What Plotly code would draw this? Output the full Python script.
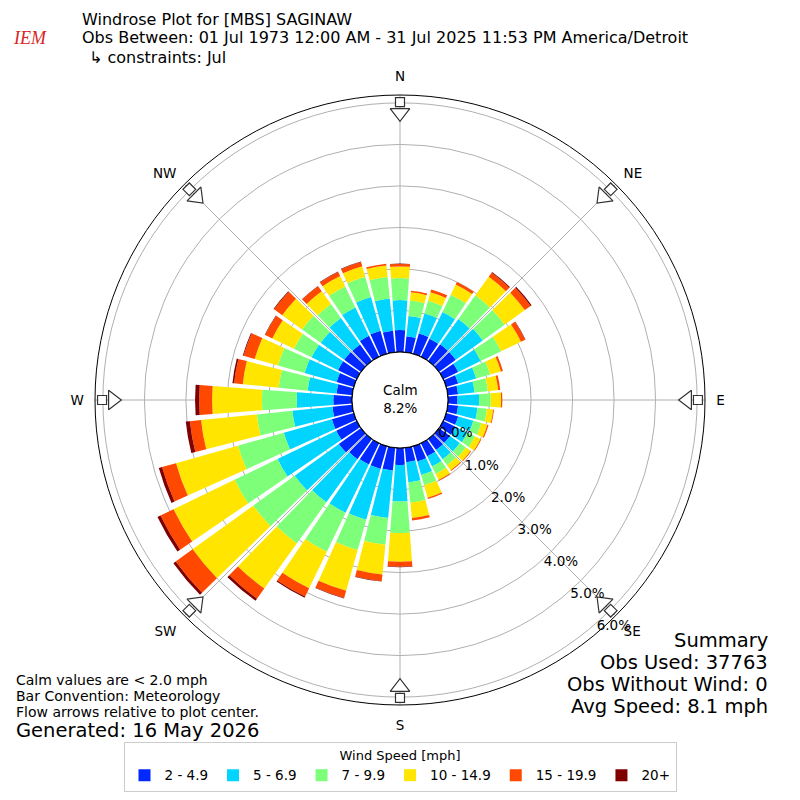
import plotly.graph_objects as go

# directions (deg, meteorological) and frequencies (%) per speed bin
directions = list(range(0, 360, 10))
bins = ["2 - 4.9", "5 - 6.9", "7 - 9.9", "10 - 14.9", "15 - 19.9", "20+"]
colors = ["#0028ff", "#00d4ff", "#7dff7a", "#ffe500", "#ff4800", "#800000"]

spd_2_5 = [0.53, 0.39, 0.51, 0.48, 0.50, 0.50, 0.40, 0.30, 0.25, 0.23, 0.25, 0.30,
           0.33, 0.33, 0.33, 0.35, 0.38, 0.35, 0.41, 0.55, 0.57, 0.57, 0.60, 0.66,
           0.55, 0.55, 0.48, 0.45, 0.38, 0.43, 0.50, 0.50, 0.49, 0.56, 0.58, 0.52]
spd_5_7 = [0.72, 0.49, 0.50, 0.72, 0.75, 0.80, 0.60, 0.45, 0.40, 0.52, 0.47, 0.38,
           0.32, 0.29, 0.27, 0.27, 0.34, 0.49, 0.88, 1.15, 1.27, 1.29, 1.28, 1.31,
           1.57, 1.20, 0.97, 0.88, 0.70, 0.80, 0.71, 0.70, 0.79, 0.76, 0.84, 0.78]
spd_7_10 = [0.53, 0.37, 0.32, 0.46, 0.70, 0.65, 0.55, 0.35, 0.32, 0.28, 0.23, 0.20,
            0.20, 0.18, 0.18, 0.20, 0.26, 0.49, 0.76, 0.65, 0.76, 1.04, 1.22, 1.23,
            1.15, 1.15, 0.86, 0.84, 0.70, 0.67, 0.47, 0.55, 0.41, 0.56, 0.51, 0.52]
spd_10_15 = [0.28, 0.20, 0.21, 0.27, 0.55, 0.60, 0.53, 0.27, 0.25, 0.25, 0.15, 0.15,
             0.15, 0.14, 0.15, 0.16, 0.31, 0.37, 0.69, 0.72, 1.02, 0.98, 1.34, 1.80,
             1.63, 1.55, 1.35, 1.20, 0.87, 0.58, 0.58, 0.59, 0.38, 0.28, 0.26, 0.28]
spd_15_20 = [0.06, 0.04, 0.07, 0.07, 0.12, 0.17, 0.11, 0.05, 0.05, 0.03, 0.02, 0.03,
             0.02, 0.02, 0.02, 0.02, 0.03, 0.06, 0.12, 0.16, 0.18, 0.22, 0.30, 0.50,
             0.35, 0.35, 0.27, 0.31, 0.21, 0.28, 0.19, 0.24, 0.15, 0.11, 0.11, 0.04]
spd_20 = [0.01, 0.00, 0.00, 0.00, 0.02, 0.03, 0.01, 0.00, 0.00, 0.00, 0.00, 0.00,
          0.00, 0.00, 0.00, 0.00, 0.00, 0.00, 0.01, 0.01, 0.01, 0.03, 0.06, 0.07,
          0.08, 0.08, 0.10, 0.10, 0.04, 0.02, 0.01, 0.02, 0.01, 0.01, 0.01, 0.00]
series = [spd_2_5, spd_5_7, spd_7_10, spd_10_15, spd_15_20, spd_20]

compass_dirs = [0, 45, 90, 135, 180, 225, 270, 315]
compass_labels = ["N", "NE", "E", "SE", "S", "SW", "W", "NW"]
rticks = [0, 1, 2, 3, 4, 5, 6]
rticklabels = ["0.0%", "1.0%", "2.0%", "3.0%", "4.0%", "5.0%", "6.0%"]
rmax = 6.19

FONT = "DejaVu Sans"
W = 800
OFF = 8  # page body margin shifts the figure by 8px


def px(x):
    return (x - OFF) / W


def py(y):
    return 1 - (y - OFF) / W


fig = go.Figure()

for name, vals, col in zip(bins, series, colors):
    fig.add_trace(go.Barpolar(
        r=vals, theta=directions, width=8.5, name=name,
        marker=dict(color=col, line=dict(width=0)),
    ))

# black ring round the calm circle
ring_theta = list(range(0, 361, 2))
fig.add_trace(go.Scatterpolar(
    r=[0] * len(ring_theta), theta=ring_theta, mode="lines",
    line=dict(color="black", width=1.2), showlegend=False, hoverinfo="skip",
))

# flow arrows on the compass points: shaft then head
fig.add_trace(go.Scatterpolar(
    r=[6.02] * len(compass_dirs), theta=compass_dirs, mode="markers",
    marker=dict(symbol="square", size=9, color="white",
                angle=compass_dirs,
                line=dict(color="#333333", width=1.2)),
    showlegend=False, hoverinfo="skip", cliponaxis=False,
))
fig.add_trace(go.Scatterpolar(
    r=[5.76] * len(compass_dirs), theta=compass_dirs, mode="markers",
    marker=dict(symbol="triangle-up", size=17, color="white",
                angle=[d + 180 for d in compass_dirs],
                line=dict(color="#333333", width=1.2)),
    showlegend=False, hoverinfo="skip", cliponaxis=False,
))

fig.update_layout(
    width=W, height=W,
    margin=dict(l=0, r=0, t=0, b=0),
    paper_bgcolor="white",
    font=dict(family=FONT, size=13, color="black"),
    polar=dict(
        domain=dict(x=[px(95), px(705)], y=[py(705), py(95)]),
        hole=48 / 305,
        bgcolor="white",
        barmode="stack",
        angularaxis=dict(
            rotation=90, direction="clockwise",
            tickmode="array", tickvals=compass_dirs, ticktext=compass_labels,
            showgrid=True, gridcolor="#b0b0b0", gridwidth=1,
            showline=True, linecolor="black", linewidth=1,
            ticks="outside", ticklen=8, tickcolor="rgba(0,0,0,0)",
            tickfont=dict(size=13.5),
        ),
        radialaxis=dict(
            range=[0, rmax], angle=-50.5, tickangle=-50.5, side="counterclockwise",
            tickmode="array", tickvals=rticks, ticktext=rticklabels,
            showgrid=True, gridcolor="#b0b0b0", gridwidth=1,
            showline=False, ticks="", tickfont=dict(size=13.5),
        ),
    ),
    legend=dict(
        orientation="h", x=px(400), xanchor="center", y=py(742), yanchor="top",
        title=dict(text="Wind Speed [mph]", side="top center", font=dict(size=13)),
        font=dict(size=13.5), bordercolor="#cccccc", borderwidth=1,
        bgcolor="white", itemwidth=30,
    ),
)

# titles
title_lines = [
    ("Windrose Plot for [MBS] SAGINAW", 80, 19),
    ("Obs Between: 01 Jul 1973 12:00 AM - 31 Jul 2025 11:53 PM America/Detroit", 80, 38),
    ("↳ constraints: Jul", 87, 57),
]
for txt, x0, y0 in title_lines:
    fig.add_annotation(text=txt, x=px(x0), y=py(y0), xref="paper", yref="paper",
                       xanchor="left", yanchor="middle", showarrow=False,
                       font=dict(size=16, family=FONT))

# IEM logo stand-in
fig.add_annotation(text="<i>IEM</i>", x=px(30), y=py(38), xref="paper", yref="paper",
                   xanchor="center", yanchor="middle", showarrow=False,
                   font=dict(size=18, family="Liberation Serif", color="#d62728"))

# calm label
fig.add_annotation(text="Calm<br>8.2%", x=px(400), y=py(399), xref="paper", yref="paper",
                   showarrow=False, font=dict(size=13.5, family=FONT))

# footnotes
notes = [
    ("Calm values are &lt; 2.0 mph", 680, 14),
    ("Bar Convention: Meteorology", 696, 14),
    ("Flow arrows relative to plot center.", 712, 14),
    ("Generated: 16 May 2026", 730, 19.5),
]
for txt, y0, sz in notes:
    fig.add_annotation(text=txt, x=px(14), y=py(y0), xref="paper", yref="paper",
                       xanchor="left", yanchor="middle", showarrow=False,
                       font=dict(size=sz, family=FONT))

summary = [
    ("Summary", 640),
    ("Obs Used: 37763", 662),
    ("Obs Without Wind: 0", 684),
    ("Avg Speed: 8.1 mph", 706),
]
for txt, y0 in summary:
    fig.add_annotation(text=txt, x=px(770), y=py(y0), xref="paper", yref="paper",
                       xanchor="right", yanchor="middle", showarrow=False,
                       font=dict(size=19.5, family=FONT))

fig.write_html("out.html")
